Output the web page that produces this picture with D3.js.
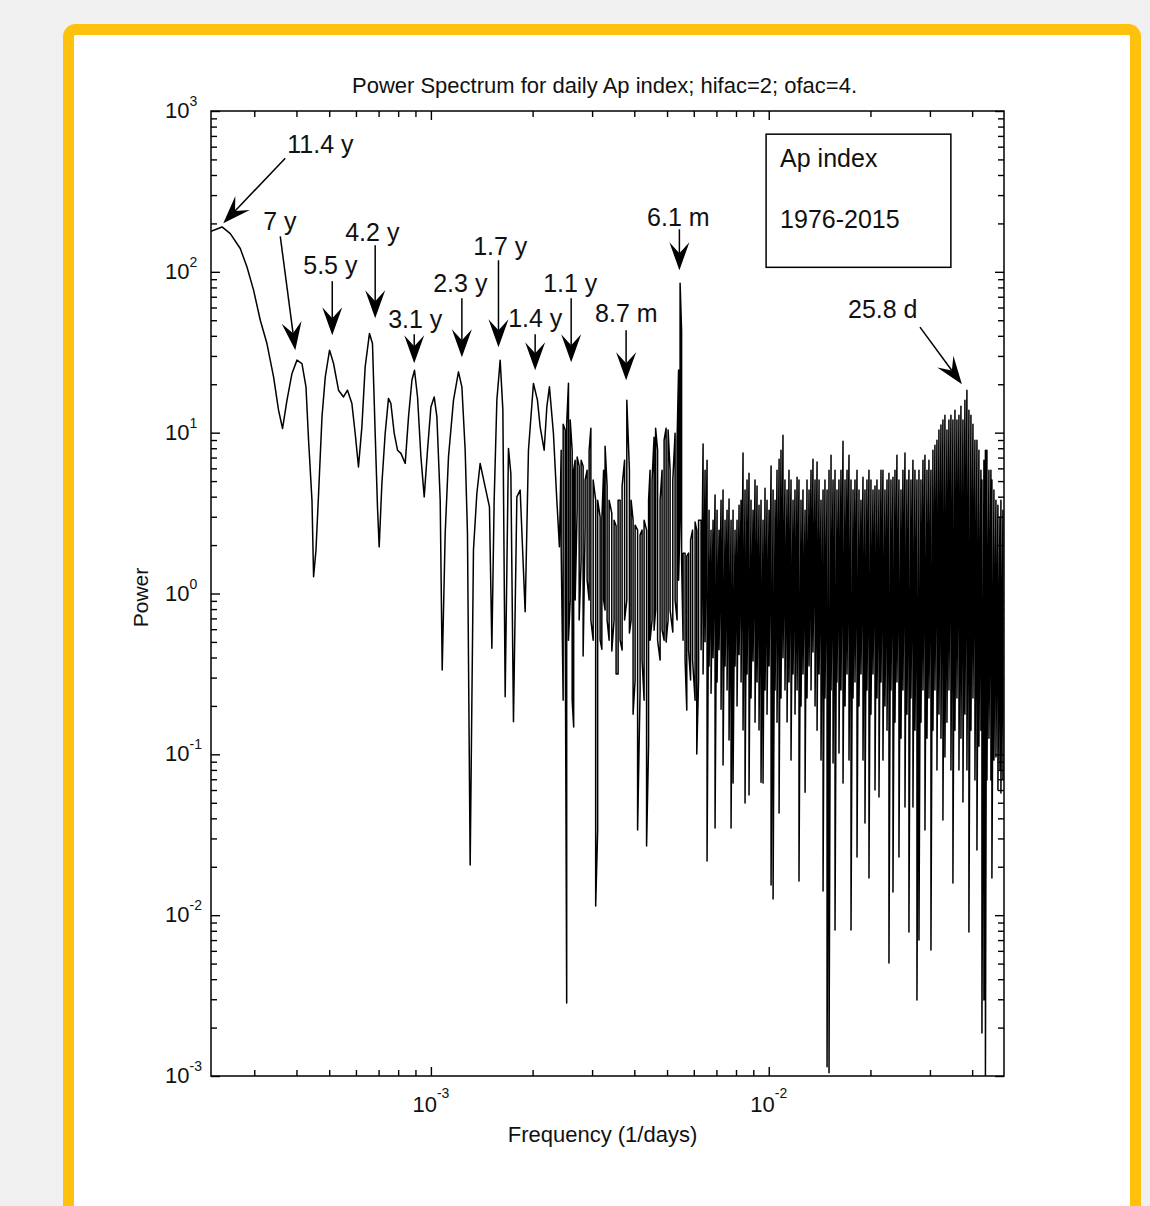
<!DOCTYPE html>
<html>
<head>
<meta charset="utf-8">
<script src="https://cdn.jsdelivr.net/npm/d3@7"></script>
<style>
  html, body { margin: 0; padding: 0; background: #f0f0f0; }
  svg { display: block; font-family: "Liberation Sans", Arial, sans-serif; }
</style>
</head>
<body>
<div id="chart"></div>
<script>
const title = 'Power Spectrum for daily Ap index; hifac=2; ofac=4.';
const xLabel = 'Frequency (1/days)';
const yLabel = 'Power';
const legendLines = ['Ap index', '1976-2015'];

// smooth low-frequency part of the periodogram
const lowFreq = [0.2234,0.2408,0.2548,0.2727,0.2855,0.2986,0.3126,0.3271,0.3422,0.3540,0.3638,0.3750,0.3880,0.4014,0.4153,0.4268,0.4344,0.4446,0.4495,0.4569,0.4651,0.4760,0.4868,0.5012,0.5150,0.5328,0.5512,0.5664,0.5836,0.5969,0.6104,0.6247,0.6389,0.6579,0.6715,0.6840,0.6948,0.7029,0.7160,0.7322,0.7489,0.7613,0.7788,0.7966,0.8152,0.8394,0.8585,0.8786,0.8943,0.9129,0.9342,0.9554,0.9771,1.000,1.0227,1.0417,1.0654,1.0800,1.1023,1.1274,1.1665,1.2067,1.2350,1.2631,1.2830,1.3068,1.3365,1.3678,1.3989,1.4473,1.4904,1.5150,1.5390,1.5676,1.6033,1.6331,1.6589,1.6966,1.7246,1.7554,1.7965,1.8374,1.9010,1.9443,2.0115,2.0671,2.1055,2.1637,2.2037,2.2430,2.3050,2.3590,2.4012];
const lowLogP = [2.252,2.279,2.238,2.145,2.030,1.886,1.699,1.554,1.347,1.140,1.026,1.202,1.368,1.451,1.430,1.285,0.953,0.580,0.104,0.270,0.622,1.098,1.347,1.513,1.430,1.264,1.222,1.264,1.181,0.995,0.787,1.036,1.409,1.617,1.554,0.995,0.539,0.290,0.684,0.995,1.213,1.181,0.995,0.891,0.871,0.809,1.098,1.326,1.388,1.222,0.850,0.601,0.891,1.160,1.222,1.098,0.580,-0.476,0.375,0.850,1.202,1.378,1.285,0.891,0.375,-1.688,0.270,0.622,0.809,0.663,0.539,-0.341,0.580,1.202,1.451,1.140,-0.642,0.902,0.746,-0.797,0.601,0.643,-0.114,0.891,1.306,1.202,1.036,0.891,1.160,1.285,0.995,0.580,0.290];

// dense high-frequency part: each frequency has an upper and a lower excursion
const denseFreq = [2.430,2.463,2.497,2.523,2.554,2.584,2.619,2.646,2.673,2.710,2.747,2.784,2.822,2.861,2.900,2.940,2.975,3.022,3.074,3.116,3.169,3.206,3.245,3.278,3.323,3.369,3.431,3.485,3.533,3.582,3.631,3.681,3.744,3.801,3.869,3.914,3.967,4.022,4.091,4.161,4.218,4.276,4.349,4.409,4.454,4.515,4.577,4.625,4.688,4.769,4.834,4.901,4.968,5.036,5.105,5.200,5.282,5.354,5.409,5.465,5.521,5.578,5.654,5.720,5.791,5.870,5.951,6.053,6.123,6.199,
  6.305,6.392,6.479,6.568,6.658,6.749,6.842,6.936,7.031,7.127,7.225,7.324,7.425,7.527,7.630,7.735,7.841,7.948,8.057,8.168,8.280,8.393,8.508,8.625,8.743,8.863,8.985,9.108,9.233,9.359,9.488,9.618,9.750,9.884,10.02,10.16,10.30,10.44,10.58,10.73,10.87,11.02,11.17,11.33,11.48,11.64,11.80,11.96,12.13,12.29,12.46,12.63,12.81,12.98,13.16,13.34,13.52,13.71,13.90,14.09,14.28,14.48,14.67,14.88,15.08,15.29,15.50,15.71,15.92,16.14,16.36,16.59,16.82,17.05,17.28,17.52,17.76,18.00,18.25,18.50,18.75,19.01,19.27,19.53,19.80,20.07,20.35,20.63,20.91,21.20,21.49,21.78,22.08,22.39,22.69,23.00,23.32,23.64,23.96,24.29,24.63,24.96,25.31,25.65,26.00,26.36,26.72,27.09,27.46,27.84,28.22,28.61,29.00,29.40,29.80,30.21,30.62,31.04,31.47,31.90,32.34,32.78,33.23,33.69,34.15,34.62,35.09,35.58,36.06,36.56,37.06,37.57,38.08,38.60,39.13,39.67,40.22,40.77,41.33,41.89,42.47,42.76,43.35,43.79,44.24,44.85,45.46,45.77,46.40,47.04,47.68,48.34,48.67,49.34];
const denseHiLogP = [0.891,1.053,1.016,1.053,1.308,1.078,0.891,0.767,0.829,0.848,0.792,0.829,0.792,0.705,0.767,0.891,1.028,0.705,0.580,0.580,0.475,0.456,0.767,0.916,0.668,0.580,0.500,0.456,0.419,0.580,0.580,0.668,0.829,1.202,0.767,0.580,0.456,0.425,0.394,0.363,0.394,0.456,0.394,0.580,0.767,0.705,0.972,1.028,0.891,0.580,0.767,0.953,1.028,1.016,0.767,0.705,0.997,0.953,1.389,1.929,1.637,0.251,0.251,0.232,0.251,0.332,0.394,0.444,0.394,0.456,
  0.456,0.929,0.767,0.829,0.518,0.394,0.456,0.612,0.518,0.394,0.580,0.643,0.456,0.518,0.587,0.456,0.518,0.394,0.456,0.549,0.580,0.873,0.643,0.705,0.748,0.580,0.518,0.705,0.668,0.549,0.580,0.456,0.655,0.580,0.518,0.792,0.643,0.580,0.767,0.835,0.891,0.984,0.705,0.643,0.767,0.705,0.580,0.643,0.723,0.705,0.580,0.643,0.518,0.705,0.643,0.767,0.835,0.705,0.817,0.705,0.580,0.643,0.705,0.643,0.767,0.860,0.705,0.767,0.643,0.705,0.767,0.947,0.705,0.767,0.860,0.705,0.643,0.705,0.767,0.643,0.580,0.723,0.643,0.705,0.767,0.705,0.643,0.668,0.705,0.643,0.767,0.767,0.643,0.705,0.748,0.705,0.723,0.767,0.860,0.705,0.643,0.767,0.873,0.705,0.767,0.705,0.829,0.767,0.705,0.767,0.705,0.829,0.860,0.767,0.829,0.767,0.891,0.922,0.953,1.016,1.047,1.078,1.109,1.016,1.078,1.109,1.078,1.140,1.078,1.109,1.164,1.078,1.202,1.264,1.140,1.109,1.053,0.953,0.953,0.891,0.767,0.705,0.829,0.891,0.891,0.767,0.767,0.705,0.643,0.580,0.549,0.475,0.580,0.518];
const denseLoLogP = [0.276,-0.663,-0.041,-2.546,-0.290,-0.041,-0.663,-0.830,-0.041,0.531,-0.165,0.208,-0.389,0.419,0.083,-0.041,-0.165,-0.290,-1.943,-1.470,-0.290,-0.346,-0.041,-0.103,-0.165,-0.290,-0.358,-0.165,-0.501,-0.501,-0.290,-0.352,-0.165,-0.041,-0.246,-0.165,-0.750,-0.538,-1.470,-0.600,-0.414,-0.663,-1.570,-0.942,-0.290,-0.165,-0.228,-0.103,-0.290,-0.414,-0.228,-0.290,-0.302,-0.165,-0.103,-0.240,-0.041,-0.165,0.083,0.456,0.208,-0.290,-0.414,-0.725,-0.352,-0.538,-0.414,-0.663,-0.998,-0.538,
  -0.35,-0.50,-0.30,-1.663,-0.45,-0.62,-0.40,-1.458,-0.55,-0.35,-0.72,-1.067,-0.45,-0.60,-0.911,-1.458,-1.179,-0.45,-0.70,-0.38,-0.55,-0.849,-1.303,-0.50,-1.253,-0.65,-0.42,-0.80,-0.55,-0.849,-1.173,-1.179,-0.60,-0.75,-0.45,-1.812,-1.899,-0.60,-0.80,-1.365,-0.65,-0.40,-0.60,-0.799,-0.55,-1.036,-0.50,-0.75,-0.60,-1.787,-0.70,-0.50,-1.235,-0.65,-0.45,-0.60,-0.364,-0.70,-0.85,-0.50,-1.036,-1.850,-0.65,-2.943,-2.980,-0.60,-1.054,-2.092,-0.55,-0.992,-0.60,-1.179,-0.70,-0.50,-1.036,-2.092,-0.65,-0.55,-1.638,-0.70,-0.50,-1.036,-1.427,-0.60,-1.769,-0.75,-0.50,-1.222,-0.65,-1.266,-0.55,-1.036,-0.70,-0.85,-2.297,-0.60,-1.856,-0.80,-0.55,-1.638,-0.90,-0.60,-1.328,-0.75,-2.104,-0.65,-1.328,-0.85,-2.527,-2.154,-0.80,-0.60,-1.470,-0.90,-0.65,-2.216,-0.85,-0.60,-1.098,-0.75,-0.90,-1.408,-1.017,-0.80,-0.60,-1.098,-1.800,-0.85,-0.65,-1.098,-0.90,-1.297,-0.75,-1.098,-2.104,-0.85,-0.65,-1.160,-1.595,-0.95,-0.85,-2.732,-2.527,-2.999,-1.160,-0.90,-1.160,-1.769,-1.036,-1.017,-1.222,-1.098,-1.241,-1.160];

// period annotations: text anchor, arrow tail and arrow tip as [freq 1e-3/days, log10 power]
const annotations = [
  { label: '11.4 y', at: [0.3757, 2.737], tail: [0.3706, 2.706], tip: [0.2429, 2.302] },
  { label: '7 y',    at: [0.3190, 2.259], tail: [0.3582, 2.221], tip: [0.3968, 1.513] },
  { label: '5.5 y',  at: [0.4190, 1.985], tail: [0.5105, 1.942], tip: [0.5105, 1.606] },
  { label: '4.2 y',  at: [0.5576, 2.190], tail: [0.6840, 2.165], tip: [0.6840, 1.712] },
  { label: '3.1 y',  at: [0.7474, 1.649], tail: [0.8925, 1.612], tip: [0.8925, 1.432] },
  { label: '2.3 y',  at: [1.0158, 1.873], tail: [1.2350, 1.836], tip: [1.2350, 1.469] },
  { label: '1.7 y',  at: [1.3338, 2.103], tail: [1.5849, 2.072], tip: [1.5849, 1.531] },
  { label: '1.4 y',  at: [1.6931, 1.656], tail: [2.0350, 1.612], tip: [2.0350, 1.388] },
  { label: '1.1 y',  at: [2.1489, 1.873], tail: [2.6013, 1.836], tip: [2.6013, 1.438] },
  { label: '8.7 m',  at: [3.0624, 1.687], tail: [3.7826, 1.637], tip: [3.7826, 1.326] },
  { label: '6.1 m',  at: [4.3641, 2.283], tail: [5.4390, 2.265], tip: [5.4390, 2.010] },
  { label: '25.8 d', at: [17.162, 1.712], tail: [28.028, 1.656], tip: [37.31, 1.301] }
];

const xDomain = [0.2234e-3, 0.0497];
const yTickExp = [-3, -2, -1, 0, 1, 2, 3];
const xTickExp = [-3, -2];

const width = 1150, height = 1206;
const margin = { left: 211, top: 111 };
const W = 793, H = 965;
const ink = '#111';

const svg = d3.select('#chart').append('svg')
  .attr('width', width)
  .attr('height', height);

// yellow frame
svg.append('rect')
  .attr('x', 68.5).attr('y', 29.5)
  .attr('width', 1067).attr('height', 1210)
  .attr('rx', 7)
  .attr('fill', '#fff')
  .attr('stroke', '#fdc10e')
  .attr('stroke-width', 11);

const x = d3.scaleLog().domain(xDomain).range([0, W]);
const y = d3.scaleLog().domain([1e-3, 1e3]).range([H, 0]);

const g = svg.append('g').attr('transform', `translate(${margin.left},${margin.top})`);

svg.append('defs').append('clipPath').attr('id', 'plot-clip')
  .append('rect').attr('width', W).attr('height', H);

// build the line: low part, then up/down excursions of the dense part
const points = lowFreq.map((f, i) => [f / 1000, Math.pow(10, lowLogP[i])]);
denseFreq.forEach((f, i) => {
  const hi = [f / 1000, Math.pow(10, denseHiLogP[i])];
  const lo = [f / 1000, Math.pow(10, denseLoLogP[i])];
  // below ~6e-3 the spikes stand apart, so walk them as separate strokes
  if (f < 6.25 && i % 2) points.push(lo, hi);
  else points.push(hi, lo);
});

const line = d3.line().x(d => x(d[0])).y(d => y(d[1]));
g.append('path')
  .datum(points)
  .attr('clip-path', 'url(#plot-clip)')
  .attr('d', line)
  .attr('fill', 'none')
  .attr('stroke', '#000')
  .attr('stroke-width', 1.5)
  .attr('stroke-linejoin', 'round');

// ticks (inward, on all four sides)
const minor = (exps, lo, hi) => {
  const out = [];
  exps.forEach(e => d3.range(2, 10).forEach(m => {
    const v = m * Math.pow(10, e);
    if (v > lo && v < hi) out.push(v);
  }));
  return out;
};
const xMajor = xTickExp.map(e => Math.pow(10, e));
const xMinor = minor([-4, -3, -2], xDomain[0], xDomain[1]);
const yMajor = yTickExp.map(e => Math.pow(10, e));
const yMinor = minor([-3, -2, -1, 0, 1, 2], 1e-3, 1e3);

const ticks = [
  [d3.axisBottom, x, `translate(0,${H})`],
  [d3.axisTop, x, 'translate(0,0)'],
  [d3.axisLeft, y, 'translate(0,0)'],
  [d3.axisRight, y, `translate(${W},0)`]
];
ticks.forEach(([fn, scale, tr]) => {
  const isX = scale === x;
  [[isX ? xMajor : yMajor, 9], [isX ? xMinor : yMinor, 6]].forEach(([vals, size]) => {
    const ax = g.append('g').attr('transform', tr)
      .call(fn(scale).tickValues(vals).tickSize(-size).tickFormat(''));
    ax.select('.domain').remove();
    ax.selectAll('line').attr('stroke', '#000').attr('stroke-width', 1.4);
  });
});

g.append('rect')
  .attr('width', W).attr('height', H)
  .attr('fill', 'none')
  .attr('stroke', '#000')
  .attr('stroke-width', 1.5);

// tick labels as 10 with superscript exponent
yTickExp.forEach(e => {
  const t = g.append('text')
    .attr('x', -46).attr('y', y(Math.pow(10, e)) + 7)
    .attr('font-size', 22).attr('fill', ink);
  t.append('tspan').text('10');
  t.append('tspan').attr('dy', -12).attr('font-size', 14).text(e);
});
xTickExp.forEach(e => {
  const t = g.append('text')
    .attr('x', x(Math.pow(10, e))).attr('y', H + 36)
    .attr('text-anchor', 'middle')
    .attr('font-size', 22).attr('fill', ink);
  t.append('tspan').text('10');
  t.append('tspan').attr('dy', -14).attr('font-size', 14).text(e);
});

// titles
svg.append('text')
  .attr('x', margin.left + W / 2 - 3).attr('y', 93)
  .attr('text-anchor', 'middle')
  .attr('font-size', 22).attr('fill', ink)
  .text(title);
svg.append('text')
  .attr('x', margin.left + W / 2 - 5).attr('y', margin.top + H + 66)
  .attr('text-anchor', 'middle')
  .attr('font-size', 22).attr('fill', ink)
  .text(xLabel);
svg.append('text')
  .attr('transform', `translate(148,${margin.top + H / 2 + 4}) rotate(-90)`)
  .attr('text-anchor', 'middle')
  .attr('font-size', 21).attr('fill', ink)
  .text(yLabel);

// arrows with period labels
const ann = g.append('g');
annotations.forEach(a => {
  const tx = x(a.tip[0] / 1000), ty = y(Math.pow(10, a.tip[1]));
  const sx = x(a.tail[0] / 1000), sy = y(Math.pow(10, a.tail[1]));
  const ang = Math.atan2(ty - sy, tx - sx);
  const ux = Math.cos(ang), uy = Math.sin(ang);
  const nx = -uy, ny = ux;
  const L = 28, hw = 10, notch = 11;
  const bx = tx - ux * L, by = ty - uy * L;
  const mx = tx - ux * (L - notch), my = ty - uy * (L - notch);
  ann.append('line')
    .attr('x1', sx).attr('y1', sy).attr('x2', mx).attr('y2', my)
    .attr('stroke', '#000').attr('stroke-width', 1.5);
  ann.append('path')
    .attr('d', d3.line()([[tx, ty], [bx + nx * hw, by + ny * hw], [mx, my], [bx - nx * hw, by - ny * hw]]) + 'Z')
    .attr('fill', '#000');
  ann.append('text')
    .attr('x', x(a.at[0] / 1000)).attr('y', y(Math.pow(10, a.at[1])))
    .attr('font-size', 25).attr('fill', ink)
    .text(a.label);
});

// legend box
const lg = g.append('g').attr('transform', `translate(${W * 0.700},${H * 0.024})`);
lg.append('rect')
  .attr('width', W * 0.233).attr('height', H * 0.138)
  .attr('fill', '#fff').attr('stroke', '#000').attr('stroke-width', 1.5);
lg.selectAll('text').data(legendLines).join('text')
  .attr('x', 14).attr('y', (d, i) => 33 + i * 61)
  .attr('font-size', 25).attr('fill', ink)
  .text(d => d);
</script>
</body>
</html>
